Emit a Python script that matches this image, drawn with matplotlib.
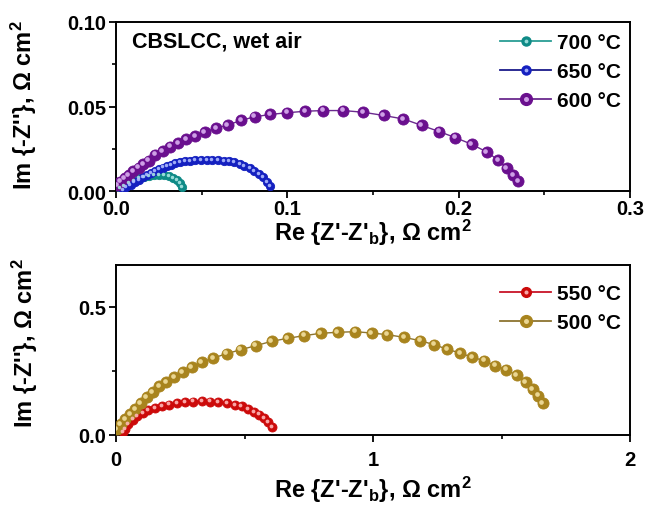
import matplotlib
matplotlib.use("Agg")
import matplotlib.pyplot as plt
from matplotlib.transforms import offset_copy
from matplotlib.lines import Line2D
from matplotlib.legend_handler import HandlerTuple

plt.rcParams['font.family'] = ['Liberation Sans', 'DejaVu Sans']
plt.rcParams['font.weight'] = 'bold'
plt.rcParams['mathtext.fontset'] = 'custom'
plt.rcParams['mathtext.rm'] = 'Liberation Sans:bold'
plt.rcParams['mathtext.it'] = 'Liberation Sans:bold'
plt.rcParams['mathtext.bf'] = 'Liberation Sans:bold'

# ---------------- data (top panel) ----------------
x700 = [0.0026, 0.0050, 0.0075, 0.0104, 0.0133, 0.0162, 0.0191, 0.0220, 0.0250,
        0.0279, 0.0308, 0.0333, 0.0357, 0.0376, 0.0386]
y700 = [0.0016, 0.0031, 0.0047, 0.0061, 0.0075, 0.0084, 0.0090, 0.0094, 0.0094,
        0.0092, 0.0086, 0.0078, 0.0065, 0.0045, 0.0022]

x650 = [0.0042, 0.0061, 0.0085, 0.0108, 0.0133, 0.0159, 0.0182, 0.0205, 0.0226,
        0.0250, 0.0273, 0.0299, 0.0322, 0.0347, 0.0376, 0.0405, 0.0434, 0.0464,
        0.0497, 0.0532, 0.0561, 0.0594, 0.0629, 0.0658, 0.0691, 0.0722, 0.0749,
        0.0780, 0.0808, 0.0833, 0.0858, 0.0882, 0.0901]
y650 = [0.0008, 0.0022, 0.0035, 0.0051, 0.0066, 0.0081, 0.0094, 0.0106, 0.0119,
        0.0129, 0.0139, 0.0149, 0.0155, 0.0163, 0.0169, 0.0175, 0.0178, 0.0182,
        0.0184, 0.0184, 0.0184, 0.0182, 0.0178, 0.0175, 0.0169, 0.0159, 0.0149,
        0.0135, 0.0120, 0.0100, 0.0081, 0.0055, 0.0028]

x600 = [0.0006, 0.0026, 0.0050, 0.0075, 0.0102, 0.0133, 0.0160, 0.0191, 0.0230,
        0.0273, 0.0318, 0.0363, 0.0411, 0.0464, 0.0518, 0.0584, 0.0652, 0.0730,
        0.0809, 0.0901, 0.0998, 0.1105, 0.1210, 0.1327, 0.1443, 0.1562, 0.1678,
        0.1785, 0.1888, 0.1980, 0.2077, 0.2164, 0.2232, 0.2281, 0.2320, 0.2349]
y600 = [0.0035, 0.0055, 0.0074, 0.0094, 0.0118, 0.0139, 0.0159, 0.0178, 0.0214,
        0.0237, 0.0261, 0.0282, 0.0306, 0.0325, 0.0349, 0.0371, 0.0390, 0.0418,
        0.0439, 0.0453, 0.0463, 0.0472, 0.0476, 0.0476, 0.0466, 0.0447, 0.0426,
        0.0388, 0.0351, 0.0316, 0.0276, 0.0231, 0.0182, 0.0134, 0.0094, 0.0057]

# ---------------- data (bottom panel) ----------------
x550 = [0.0261, 0.0350, 0.0479, 0.0650, 0.0829, 0.1038, 0.1257, 0.1518, 0.1778,
        0.2074, 0.2361, 0.2685, 0.3008, 0.3335, 0.3658, 0.3981, 0.4332, 0.4630,
        0.4890, 0.5149, 0.5370, 0.5577, 0.5759, 0.5927, 0.6058]
y550 = [0.0104, 0.0234, 0.0430, 0.0599, 0.0729, 0.0859, 0.0977, 0.1055, 0.1120,
        0.1185, 0.1237, 0.1276, 0.1302, 0.1316, 0.1302, 0.1276, 0.1237, 0.1172,
        0.1120, 0.1016, 0.0911, 0.0794, 0.0664, 0.0495, 0.0299]

x500 = [0.0027, 0.0183, 0.0350, 0.0545, 0.0739, 0.0961, 0.1195, 0.1428, 0.1685,
        0.1946, 0.2257, 0.2595, 0.2946, 0.3335, 0.3786, 0.4307, 0.4852, 0.5436,
        0.6058, 0.6681, 0.7315, 0.7965, 0.8626, 0.9300, 0.9949, 1.0558, 1.1206,
        1.1829, 1.2386, 1.2891, 1.3385, 1.3864, 1.4331, 1.4747, 1.5175, 1.5591,
        1.5942, 1.6214, 1.6432, 1.6603]
y500 = [0.0234, 0.0430, 0.0625, 0.0820, 0.1016, 0.1250, 0.1473, 0.1668, 0.1902,
        0.2059, 0.2254, 0.2449, 0.2645, 0.2840, 0.3008, 0.3176, 0.3332, 0.3488,
        0.3660, 0.3777, 0.3879, 0.3973, 0.4012, 0.4035, 0.3984, 0.3918, 0.3816,
        0.3684, 0.3527, 0.3348, 0.3203, 0.3035, 0.2902, 0.2707, 0.2551, 0.2332,
        0.2070, 0.1785, 0.1535, 0.1250]

labels_top = ["700 °C", "650 °C", "600 °C"]
labels_bot = ["550 °C", "500 °C"]

xticks_top = [0.0, 0.1, 0.2, 0.3]
xticklabels_top = ["0.0", "0.1", "0.2", "0.3"]
yticks_top = [0.00, 0.05, 0.10]
yticklabels_top = ["0.00", "0.05", "0.10"]
xticks_bot = [0, 1, 2]
yticks_bot = [0.0, 0.5]
yticklabels_bot = ["0.0", "0.5"]

fig = plt.figure(figsize=(6.47, 5.06), dpi=100)
W, H = 647, 506
ax1 = fig.add_axes([116 / W, 1 - 192 / H, (630 - 116) / W, (192 - 23) / H])
ax2 = fig.add_axes([116 / W, 1 - 436 / H, (630 - 116) / W, (436 - 266) / H])


def balls(ax, x, y, color, linecolor, hl, ms, label):
    ax.plot(x, y, '-', color=linecolor, lw=1.0, marker='o', ms=ms,
            mfc=color, mec=color, mew=0.6, label=label, zorder=3)
    tr = offset_copy(ax.transData, fig=fig, x=-ms * 0.13, y=ms * 0.13, units='points')
    ax.plot(x, y, ls='none', marker='o', ms=ms * 0.42, mfc=hl, mec='none',
            alpha=0.9, transform=tr, zorder=4)
    h = Line2D([], [], color=linecolor, lw=1.3, marker='o', ms=ms + 0.5,
               mfc=color, mec=color)
    h2 = Line2D([], [], ls='none', marker='o', ms=(ms + 0.5) * 0.42, mfc=hl,
                mec='none', alpha=0.9)
    return (h, h2)


handles_top = [
    balls(ax1, x700, y700, '#0e8a86', '#2a9d94', '#a8e6e2', 6.0, labels_top[0]),
    balls(ax1, x650, y650, '#1420c0', '#1a1a8a', '#b0bcff', 6.0, labels_top[1]),
    balls(ax1, x600, y600, '#6a0f8e', '#6a2a8e', '#dab0f0', 8.0, labels_top[2]),
]
handles_bot = [
    balls(ax2, x550, y550, '#cc0a0a', '#c81428', '#ffb8b8', 6.5, labels_bot[0]),
    balls(ax2, x500, y500, '#a8841e', '#8c7430', '#f2e0a0', 8.0, labels_bot[1]),
]

ax1.set_xlim(0, 0.3)
ax1.set_ylim(0, 0.10)
ax2.set_xlim(0, 2)
ax2.set_ylim(0, 0.664)

ax1.set_xticks(xticks_top)
ax1.set_xticklabels(xticklabels_top)
ax1.set_xticks([0.05, 0.15, 0.25], minor=True)
ax1.set_yticks(yticks_top)
ax1.set_yticklabels(yticklabels_top)
ax1.set_yticks([0.025, 0.075], minor=True)

ax2.set_xticks(xticks_bot)
ax2.set_xticks([0.5, 1.5], minor=True)
ax2.set_yticks(yticks_bot)
ax2.set_yticklabels(yticklabels_bot)
ax2.set_yticks([0.25], minor=True)

for ax in (ax1, ax2):
    for s in ax.spines.values():
        s.set_linewidth(1.4)
    ax.tick_params(which='major', direction='out', length=5, width=1.3,
                   labelsize=14.5, pad=2)
    ax.tick_params(which='minor', direction='out', length=3, width=1.2)
    ax.set_xlabel(r"Re {Z'-Z'$_{b}$}, Ω cm$^{2}$", fontsize=17, fontweight='bold')
    ax.set_ylabel(r"Im {-Z''}, Ω cm$^{2}$", fontsize=17, fontweight='bold')

ax1.tick_params(axis='x', which='major', pad=1)
ax2.tick_params(axis='x', which='major', pad=6)

ax1.yaxis.set_label_coords((39 - 116) / 514, 0.515)
ax2.yaxis.set_label_coords((40 - 116) / 514, 0.544)
ax1.xaxis.set_label_coords(0.5, (192 - 218) / 169)
ax2.xaxis.set_label_coords(0.5, (436 - 475) / 170)

ax1.text((132 - 116) / 514, 0.888, "CBSLCC, wet air", transform=ax1.transAxes,
         fontsize=15.5, fontweight='bold', ha='left', va='center')

leg_kw = dict(handler_map={tuple: HandlerTuple(ndivide=1, pad=0)},
              frameon=False, fontsize=15, handlelength=2.45,
              labelspacing=0.48, handletextpad=0.25, borderpad=0.4)
ax1.legend(handles_top, labels_top, loc='upper right',
           bbox_to_anchor=(1.0, 1 - 2 / 169), borderaxespad=0.05, **leg_kw)
ax2.legend(handles_bot, labels_bot, loc='upper right',
           bbox_to_anchor=(1.0, 1 - 10 / 170), borderaxespad=0.05, **leg_kw)

fig.savefig("out.png", dpi=100)
